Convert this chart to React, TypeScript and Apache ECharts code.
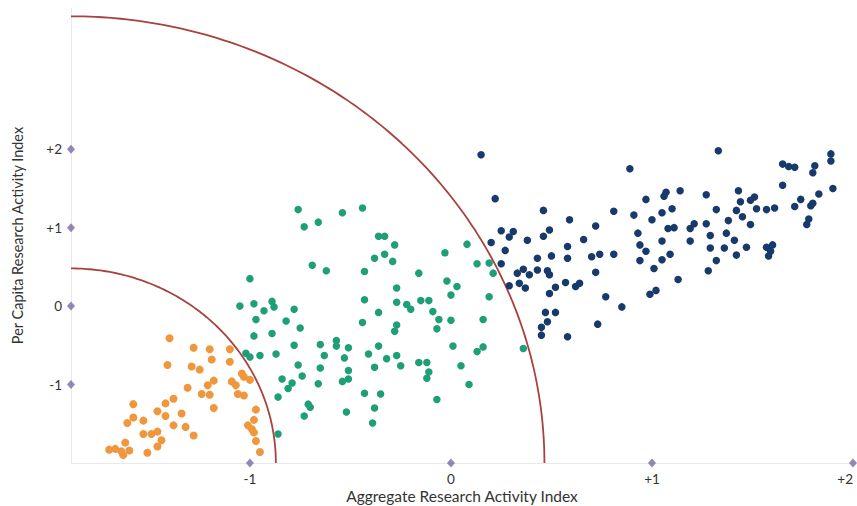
import React, { useEffect, useRef } from "react";
import * as echarts from "echarts";

const X_MIN = -1.89;
const X_MAX = 2;
const Y_MIN = -2;
const Y_MAX = 3.8;

const xTicks = [-1, 0, 1, 2];
const yTicks = [-1, 0, 1, 2];

const xName = "Aggregate Research Activity Index";
const yName = "Per Capita Research Activity Index";

const orange = [
  [-1.40, -0.41], [-1.28, -0.53], [-1.20, -0.55], [-1.10, -0.55], [-1.19, -0.68], [-1.10, -0.71],
  [-1.41, -0.75], [-1.29, -0.77], [-1.25, -0.81], [-1.04, -0.86], [-1.18, -0.95], [-1.21, -1.01],
  [-1.09, -0.96], [-1.07, -1.01], [-1.00, -0.94], [-1.31, -1.04], [-1.24, -1.12], [-1.20, -1.13],
  [-1.06, -1.12], [-1.03, -1.14], [-1.38, -1.18], [-1.42, -1.24], [-1.58, -1.25], [-1.18, -1.30],
  [-1.46, -1.34], [-1.34, -1.37], [-1.42, -1.40], [-0.97, -1.32], [-1.58, -1.42], [-1.61, -1.49],
  [-1.53, -1.46], [-1.38, -1.52], [-1.32, -1.54], [-0.98, -1.45], [-1.01, -1.52], [-0.99, -1.57],
  [-1.53, -1.63], [-1.49, -1.63], [-1.46, -1.60], [-1.28, -1.65], [-0.98, -1.61], [-1.44, -1.71],
  [-1.62, -1.74], [-1.46, -1.79], [-0.97, -1.72], [-1.70, -1.83], [-1.64, -1.85], [-1.60, -1.84],
  [-1.51, -1.87], [-1.63, -1.90], [-0.95, -1.86], [-1.03, -0.90], [-1.67, -1.82],
];

const green = [
  [-0.76, 1.23], [-0.54, 1.19], [-0.44, 1.25], [-0.73, 1.01], [-0.66, 1.07], [-0.36, 0.89],
  [-0.33, 0.89], [-0.38, 0.61], [-0.33, 0.66], [-0.69, 0.52], [-0.62, 0.45], [-0.43, 0.44],
  [-1.00, 0.35], [-0.43, 0.08], [-1.05, 0.00], [-0.98, 0.03], [-0.89, 0.06], [-0.88, -0.01],
  [-0.93, -0.06], [-0.78, -0.04], [-0.36, -0.08], [-0.97, -0.17], [-0.82, -0.19], [-0.44, -0.21],
  [-0.75, -0.28], [-0.98, -0.38], [-0.89, -0.35], [-0.78, -0.50], [-0.65, -0.49], [-0.57, -0.44],
  [-0.57, -0.51], [-0.51, -0.53], [-0.36, -0.51], [-1.02, -0.60], [-0.95, -0.63], [-0.87, -0.61],
  [-0.63, -0.63], [-0.53, -0.66], [-0.41, -0.61], [-0.32, -0.67], [-1.00, -0.65], [-0.76, -0.75],
  [-0.65, -0.79], [-0.38, -0.78], [-0.51, -0.82], [-0.74, -0.89], [-0.84, -0.93], [-0.79, -0.98],
  [-0.54, -0.96], [-0.51, -0.93], [-0.66, -0.99], [-0.81, -1.05], [-0.43, -1.11], [-0.35, -1.12],
  [-0.86, -1.16], [-0.71, -1.25], [-0.70, -1.29], [-0.38, -1.30], [-0.52, -1.35], [-0.73, -1.40],
  [-0.39, -1.49], [-0.86, -1.63], [-0.28, 0.78], [-0.29, 0.57], [-0.03, 0.68], [0.08, 0.79],
  [-0.16, 0.42], [0.13, 0.54], [0.19, 0.55], [0.21, 0.42], [-0.02, 0.32], [0.03, 0.25],
  [-0.27, 0.23], [0.00, 0.14], [0.19, 0.12], [-0.27, 0.05], [-0.22, 0.02], [-0.20, -0.04],
  [-0.15, 0.07], [-0.11, 0.07], [-0.09, -0.07], [-0.06, -0.17], [0.00, -0.18], [0.16, -0.17],
  [-0.07, -0.29], [-0.27, -0.24], [-0.28, -0.32], [0.01, -0.51], [0.16, -0.52], [0.13, -0.58],
  [0.36, -0.54], [-0.27, -0.63], [-0.25, -0.76], [-0.16, -0.72], [-0.12, -0.72], [-0.11, -0.84],
  [-0.12, -0.92], [0.05, -0.76], [0.09, -1.00], [-0.07, -1.19],
];

const navy = [
  [0.15, 1.93], [0.89, 1.75], [0.22, 1.37], [0.46, 1.22], [0.81, 1.21], [0.97, 1.36],
  [0.59, 1.10], [0.72, 1.02], [0.91, 1.16], [1.00, 1.10], [0.25, 0.96], [0.31, 0.95],
  [0.29, 0.88], [0.49, 0.97], [0.46, 0.89], [0.38, 0.84], [0.66, 0.85], [0.93, 0.93],
  [0.20, 0.81], [0.27, 0.71], [0.58, 0.76], [0.94, 0.78], [0.97, 0.70], [0.43, 0.61],
  [0.50, 0.64], [0.58, 0.61], [0.70, 0.63], [0.74, 0.66], [0.81, 0.66], [0.94, 0.58],
  [0.25, 0.54], [0.33, 0.42], [0.36, 0.47], [0.39, 0.40], [0.43, 0.46], [0.48, 0.45],
  [0.49, 0.40], [0.72, 0.43], [1.01, 0.48], [0.29, 0.26], [0.34, 0.29], [0.37, 0.23],
  [0.52, 0.24], [0.49, 0.16], [0.57, 0.30], [0.62, 0.25], [0.64, 0.29], [0.77, 0.12],
  [0.85, -0.01], [0.99, 0.15], [1.02, 0.20], [0.47, -0.08], [0.52, -0.08], [0.48, -0.20],
  [0.45, -0.27], [0.45, -0.37], [0.58, -0.39], [0.73, -0.23],
  [1.33, 1.98], [1.65, 1.81], [1.68, 1.78], [1.71, 1.77], [1.81, 1.79], [1.80, 1.70],
  [1.89, 1.94], [1.89, 1.85], [1.90, 1.50], [1.65, 1.54], [1.06, 1.40], [1.07, 1.45],
  [1.14, 1.47], [1.27, 1.42], [1.43, 1.47], [1.83, 1.43], [1.74, 1.36], [1.71, 1.27],
  [1.79, 1.28], [1.80, 1.31], [1.44, 1.33], [1.49, 1.35], [1.51, 1.39], [1.05, 1.19],
  [1.10, 1.24], [1.32, 1.23], [1.42, 1.22], [1.52, 1.24], [1.57, 1.23], [1.61, 1.25],
  [1.45, 1.14], [1.78, 1.11], [1.77, 1.04], [1.38, 1.09], [1.49, 1.04], [1.21, 1.05],
  [1.19, 0.99], [1.27, 1.05], [1.08, 0.99], [1.11, 1.00], [1.29, 0.90], [1.37, 0.93],
  [1.05, 0.83], [1.19, 0.83], [1.41, 0.84], [1.29, 0.74], [1.36, 0.74], [1.47, 0.75],
  [1.57, 0.75], [1.60, 0.78], [1.59, 0.70], [1.58, 0.64], [1.09, 0.66], [1.05, 0.59],
  [1.32, 0.58], [1.42, 0.65], [1.28, 0.45], [1.13, 0.34],
];

// quarter-ellipse boundaries centred on the lower-left corner (radii in data units)
const outerArc = { rx: 2.355, ry: 5.694 };
const innerArc = { rx: 1.019, ry: 2.48 };

function arcPoints(rx: number, ry: number) {
  const pts: number[][] = [];
  const n = 120;
  for (let i = 0; i <= n; i++) {
    const t = (i / n) * (Math.PI / 2);
    pts.push([X_MIN + rx * Math.cos(t), Y_MIN + ry * Math.sin(t)]);
  }
  return pts;
}

const FONT = "Lato, 'Open Sans', sans-serif";
const fmt = (v: number) => (v > 0 ? "+" + v : String(v));

export default function App() {
  const ref = useRef<HTMLDivElement>(null);
  useEffect(() => {
    if (!ref.current) return;
    const chart = echarts.init(ref.current, undefined, { renderer: "svg" });
    const dot = (data: number[][], color: string, size: number) => ({
      type: "scatter",
      data,
      symbol: "circle",
      symbolSize: size,
      itemStyle: { color, opacity: 1 },
      z: 3,
    });
    const arc = (a: { rx: number; ry: number }) => ({
      type: "line",
      data: arcPoints(a.rx, a.ry),
      showSymbol: false,
      symbol: "none",
      lineStyle: { color: "#a8423e", width: 1.8 },
      z: 2,
      clip: true,
    });
    const marks = [
      ...xTicks.map((v) => [v, Y_MIN]),
      ...yTicks.map((v) => [X_MIN, v]),
    ];
    chart.setOption({
      animation: false,
      backgroundColor: "#ffffff",
      grid: {
        left: 71,
        right: 4,
        top: 8,
        bottom: 43,
        containLabel: false,
        outerBoundsMode: "none",
      },
      xAxis: {
        type: "value",
        min: X_MIN,
        max: X_MAX,
        axisLine: { show: true, onZero: false, lineStyle: { color: "#e8e8ee", width: 1 } },
        axisTick: { show: false },
        splitLine: { show: false },
        axisLabel: {
          customValues: xTicks,
          formatter: fmt,
          color: "#333333",
          fontSize: 13.5,
          fontFamily: FONT,
          margin: 9,
          alignMaxLabel: "right",
        },
        name: xName,
        nameLocation: "middle",
        nameGap: 25,
        nameMoveOverlap: false,
        nameTextStyle: { color: "#333333", fontSize: 15.5, fontFamily: FONT },
      },
      yAxis: {
        type: "value",
        min: Y_MIN,
        max: Y_MAX,
        axisLine: { show: true, onZero: false, lineStyle: { color: "#e8e8ee", width: 1 } },
        axisTick: { show: false },
        splitLine: { show: false },
        axisLabel: {
          customValues: yTicks,
          formatter: fmt,
          color: "#333333",
          fontSize: 13.5,
          fontFamily: FONT,
          margin: 9,
        },
        name: yName,
        nameLocation: "middle",
        nameGap: 46,
        nameMoveOverlap: false,
        nameTextStyle: { color: "#333333", fontSize: 14.5, fontFamily: FONT },
      },
      series: [
        arc(outerArc),
        arc(innerArc),
        dot(orange, "#f0963c", 8),
        dot(green, "#1e9f78", 7.5),
        dot(navy, "#17396b", 7.5),
        {
          type: "scatter",
          data: marks,
          symbol: "diamond",
          symbolSize: [8, 9],
          itemStyle: { color: "#7b68a8" },
          clip: false,
          z: 4,
        },
      ],
    });
    return () => chart.dispose();
  }, []);
  return (
    <div
      ref={ref}
      style={{ position: "fixed", left: 0, top: 0, width: 857, height: 506 }}
    />
  );
}
